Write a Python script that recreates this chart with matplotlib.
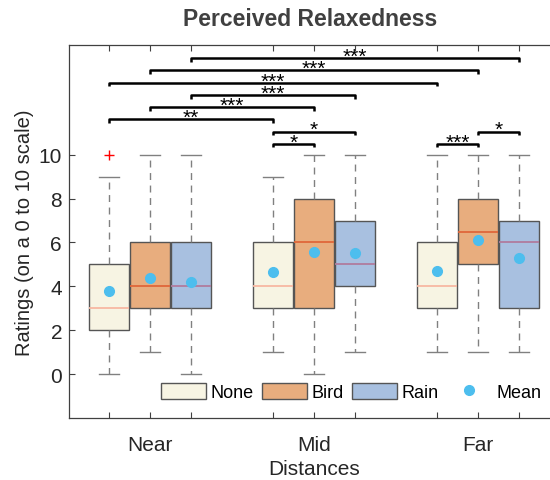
import matplotlib
matplotlib.use("Agg")
import matplotlib.pyplot as plt
from matplotlib.patches import Patch
from matplotlib.lines import Line2D

plt.rcParams['font.family'] = ['Liberation Sans', 'DejaVu Sans']

# ---------------- data ----------------
distances = ["Near", "Mid", "Far"]
conditions = ["None", "Bird", "Rain"]
whisker_low = [[0, 1, 0], [1, 0, 1], [1, 1, 1]]
q1 = [[2, 3, 3], [3, 3, 4], [3, 5, 3]]
medians = [[3, 4, 4], [4, 6, 5], [4, 6.5, 6]]
q3 = [[5, 6, 6], [6, 8, 7], [6, 8, 7]]
whisker_high = [[9, 10, 10], [9, 10, 10], [10, 10, 10]]
means = [[3.77, 4.36, 4.19], [4.64, 5.57, 5.54], [4.71, 6.12, 5.30]]
outliers = [[[10], [], []], [[], [], []], [[], [], []]]

# significance: (group_a, cond_a, group_b, cond_b, stars, tier)
sig_pairs = [
    (1, 0, 1, 1, "*", 0),
    (2, 0, 2, 1, "***", 0),
    (1, 0, 1, 2, "*", 1),
    (2, 1, 2, 2, "*", 1),
    (0, 0, 1, 0, "**", 2),
    (0, 1, 1, 1, "***", 3),
    (0, 2, 1, 2, "***", 4),
    (0, 0, 2, 0, "***", 5),
    (0, 1, 2, 1, "***", 6),
    (0, 2, 2, 2, "***", 7),
]

box_colors = ["#F7F4E3", "#E8AD7E", "#A8C0E0"]
median_colors = ["#F7B8A2", "#E0673A", "#B07C9E"]
mean_color = "#4DBEEE"
text_color = "#262626"

fig = plt.figure(figsize=(5.5, 4.81), dpi=100)
W, H = 550, 481
left_px, right_px, top_px, bottom_px = 69, 560, 46, 419
ax = fig.add_axes([left_px / W, 1 - bottom_px / H,
                   (right_px - left_px) / W, (bottom_px - top_px) / H])

def pos(g, c):
    return 1 + 4 * g + c

for c in range(3):
    stats = []
    positions = []
    for g in range(3):
        stats.append(dict(whislo=whisker_low[g][c], q1=q1[g][c], med=medians[g][c],
                          q3=q3[g][c], whishi=whisker_high[g][c],
                          fliers=outliers[g][c], mean=means[g][c]))
        positions.append(pos(g, c))
    ax.bxp(stats, positions=positions, widths=0.98, patch_artist=True,
           showmeans=True, showfliers=True,
           boxprops=dict(facecolor=box_colors[c], edgecolor="#555555", linewidth=1.0),
           medianprops=dict(color=median_colors[c], linewidth=1.3),
           whiskerprops=dict(color="#808080", linewidth=1.0, linestyle=(0, (5, 4))),
           capprops=dict(color="#808080", linewidth=1.0),
           capwidths=0.5,
           meanprops=dict(marker="o", markerfacecolor=mean_color,
                          markeredgecolor=mean_color, markersize=7),
           flierprops=dict(marker="+", markeredgecolor="red", markersize=7,
                           markeredgewidth=1.0))

# significance brackets
base, step, tick = 10.5, 0.557, 0.17
for ga, ca, gb, cb, stars, tier in sig_pairs:
    x1, x2 = pos(ga, ca), pos(gb, cb)
    y = base + step * tier
    ax.plot([x1, x1, x2, x2], [y - tick, y, y, y - tick], color="black",
            linewidth=1.8, solid_capstyle="butt", clip_on=False)
    ax.text((x1 + x2) / 2, y - 0.17, stars, ha="center", va="baseline",
            fontsize=15, color="black")

ax.set_xlim(0.02, 12)
ax.set_ylim(-2, 15)
ax.set_yticks([0, 2, 4, 6, 8, 10])
ax.set_xticks([pos(g, c) for g in range(3) for c in range(3)])
ax.set_xticklabels([distances[g] if c == 1 else "" for g in range(3) for c in range(3)])
ax.tick_params(axis="both", direction="in", length=4, width=0.8, colors="#404040",
               labelsize=15, labelcolor=text_color, top=True, right=False)
ax.tick_params(axis="x", pad=12)
ax.tick_params(axis="y", pad=5)
for s in ["left", "top", "bottom"]:
    ax.spines[s].set_color("#404040")
    ax.spines[s].set_linewidth(0.9)
ax.spines["right"].set_visible(False)

ax.set_ylabel("Ratings (on a 0 to 10 scale)", fontsize=14.5, color=text_color, labelpad=3.5)
ax.set_xlabel("Distances", fontsize=15, color=text_color, labelpad=4)
fig.text(310 / W, 1 - 19 / H, "Perceived Relaxedness", ha="center", va="center",
         fontsize=16.5, fontweight="bold", color="#404040")

handles = [Patch(facecolor=box_colors[i], edgecolor="#555555", linewidth=1.0)
           for i in range(3)]
handles.append(Line2D([], [], linestyle="none", marker="o", markersize=7,
                      markerfacecolor=mean_color, markeredgecolor=mean_color))
fig.legend(handles, conditions + ["Mean"], loc="center left",
           bbox_to_anchor=(161 / W, 1 - 393 / H), ncol=4, frameon=False,
           fontsize=13, handlelength=2.5, handleheight=1.0, handletextpad=0.25,
           columnspacing=0.45, borderaxespad=0, borderpad=0)

fig.savefig("out.png", dpi=100)
